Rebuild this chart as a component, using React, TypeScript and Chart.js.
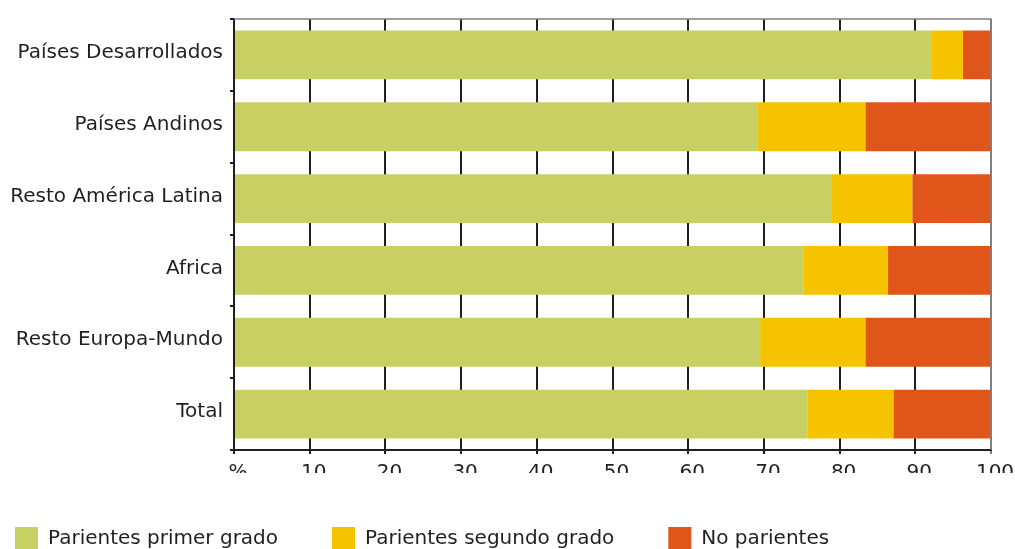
import React, { useEffect, useRef } from "react";
import { Chart, registerables } from "chart.js";

Chart.register(...registerables);

const categories = [
  "Países Desarrollados",
  "Países Andinos",
  "Resto América Latina",
  "Africa",
  "Resto Europa-Mundo",
  "Total",
];
const seriesNames = ["Parientes primer grado", "Parientes segundo grado", "No parientes"];
const primerGrado = [92.2, 69.2, 79.0, 75.2, 69.5, 75.8];
const segundoGrado = [4.1, 14.2, 10.6, 11.2, 13.9, 11.3];
const noParientes = [3.7, 16.6, 10.4, 13.6, 16.6, 12.9];
const xTicks = [0, 10, 20, 30, 40, 50, 60, 70, 80, 90, 100];
const zeroLabel = "%";

const COLORS = ["#c8cf63", "#f6c300", "#e0561a"];
const TEXT = "#231f20";
const FONT = "DejaVu Sans";
const LEGEND_PAD = 54;
const LEGEND_FIRST_X = 15;

export default function App() {
  const ref = useRef<HTMLCanvasElement | null>(null);

  useEffect(() => {
    if (!ref.current) return;
    const frame = {
      id: "frame",
      afterDatasetsDraw(chart: any) {
        const { left, right, top, bottom } = chart.chartArea;
        const ctx = chart.ctx;
        ctx.save();
        ctx.strokeStyle = "#808080";
        ctx.lineWidth = 1.5;
        ctx.beginPath();
        ctx.moveTo(left, top);
        ctx.lineTo(right, top);
        ctx.lineTo(right, bottom);
        ctx.stroke();
        ctx.restore();
      },
    };
    const legendShift = {
      id: "legendShift",
      afterLayout(chart: any) {
        if (chart.legend) {
          chart.legend.left = LEGEND_FIRST_X - LEGEND_PAD;
        }
      },
    };
    const data = [primerGrado, segundoGrado, noParientes];
    const chart = new Chart(ref.current, {
      type: "bar",
      data: {
        labels: categories,
        datasets: seriesNames.map((name, i) => ({
          label: name,
          data: data[i],
          backgroundColor: COLORS[i],
          borderWidth: 0,
          barPercentage: 0.68,
          categoryPercentage: 1,
        })),
      },
      options: {
        indexAxis: "y",
        responsive: false,
        animation: false,
        devicePixelRatio: 1,
        layout: { padding: { left: 0, top: 16, right: 24, bottom: 0 } },
        plugins: {
          tooltip: { enabled: false },
          legend: {
            position: "bottom",
            align: "start",
            labels: {
              boxWidth: 23,
              boxHeight: 23,
              padding: LEGEND_PAD,
              color: TEXT,
              font: { family: FONT, size: 20 },
            },
          },
        },
        scales: {
          x: {
            stacked: true,
            min: 0,
            max: 100,
            afterBuildTicks: (scale: any) => {
              scale.ticks = xTicks.map((v) => ({ value: v }));
            },
            afterFit: (scale: any) => {
              scale.height = 23;
              scale.paddingLeft = 0;
              scale.paddingRight = 0;
            },
            ticks: {
              color: TEXT,
              font: { family: FONT, size: 20 },
              padding: 7,
              labelOffset: 4,
              maxRotation: 0,
              autoSkip: false,
              callback: (v: any) => (Number(v) === 0 ? zeroLabel : String(v)),
            },
            grid: {
              color: (c: any) => (c.tick && c.tick.value === 100 ? "#808080" : TEXT),
              lineWidth: 2,
              tickLength: 4,
            },
            border: { display: true, color: TEXT, width: 2 },
          },
          y: {
            stacked: true,
            afterFit: (scale: any) => {
              scale.width = 234;
            },
            ticks: {
              color: TEXT,
              font: { family: FONT, size: 20 },
              padding: 7,
              labelOffset: -2,
            },
            grid: {
              offset: true,
              drawOnChartArea: false,
              color: TEXT,
              lineWidth: 2,
              tickLength: 4,
            },
            border: { display: true, color: TEXT, width: 2 },
          },
        },
      },
      plugins: [frame, legendShift],
    } as any);
    return () => chart.destroy();
  }, []);

  return (
    <div
      style={{
        position: "absolute",
        left: 0,
        top: 0,
        width: 1015,
        height: 549,
        overflow: "hidden",
        background: "#fff",
      }}
    >
      <canvas ref={ref} width={1015} height={560} style={{ display: "block" }} />
    </div>
  );
}
